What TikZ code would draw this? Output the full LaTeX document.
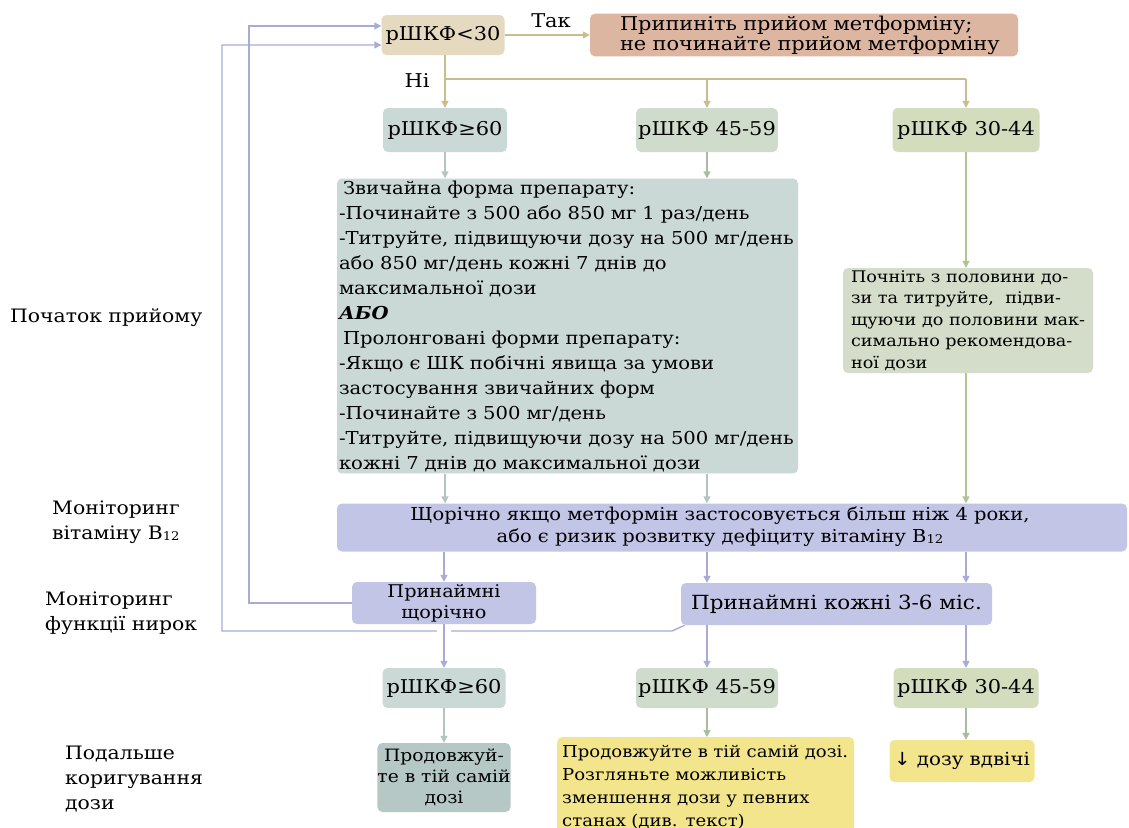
\documentclass[tikz,border=0pt]{standalone}
\usepackage{fontspec}
\setmainfont{DejaVu Serif}[FakeStretch=1.1]
\newfontfamily\symfont{DejaVu Sans}[FakeStretch=1.1]
\usetikzlibrary{arrows.meta}
\definecolor{ctan}{HTML}{E5D9C0}
\definecolor{csalmon}{HTML}{DDB6A2}
\definecolor{cblue}{HTML}{CAD9D5}
\definecolor{cmid}{HTML}{CFDCCB}
\definecolor{colive}{HTML}{D3DDBD}
\definecolor{cright}{HTML}{D3DDC9}
\definecolor{clav}{HTML}{C3C5E6}
\definecolor{cteal}{HTML}{B5C8C6}
\definecolor{cyellow}{HTML}{F3E58C}
\definecolor{ltan}{HTML}{C9BC8E}
\definecolor{lgray}{HTML}{B4C5C0}
\definecolor{lgreen}{HTML}{A8BC9F}
\definecolor{lolive}{HTML}{B2C48E}
\definecolor{llav}{HTML}{A9ABD7}
\newcommand{\fs}[2]{\fontsize{#1}{#2}\selectfont}
\newcommand{\Bsub}{B\raisebox{-1pt}{\fs{12}{12}12}}
\begin{document}
\begin{tikzpicture}[x=1pt,y=-1pt,
  box/.style={rectangle, rounded corners=5pt, draw=none, inner sep=2pt, align=center, font=\fs{18}{22}},
  conn/.style={line width=1.4pt, -{Triangle[length=7pt,width=7pt]}},
  plain/.style={line width=1.4pt},
  lbl/.style={align=left, font=\fs{18.5}{25}, inner sep=0pt, anchor=west}]
\useasboundingbox[fill=white] (0,0) rectangle (1129,827);

% top
\node[box, fill=ctan, minimum width=123pt, minimum height=40pt, font=\fs{19}{22}] (r30) at (443,35) {рШКФ<30};
\node[box, fill=csalmon, minimum height=41pt, text width=396pt, inner xsep=16pt, align=left, font=\fs{19}{20}] (stop) at (804,35) {\hspace{14pt}Припиніть прийом метформіну;\\\hspace{14pt}не починайте прийом метформіну};
\node[font=\fs{19}{20}, inner sep=1pt] (tak) at (551,21) {Так};
\node[font=\fs{19}{20}, inner sep=1pt] (ni) at (417,81) {Ні};

% row 2
\node[box, fill=cblue, minimum width=124pt, minimum height=44pt, font=\fs{19}{22}] (g60a) at (445,130) {рШКФ≥60};
\node[box, fill=cmid, minimum width=140pt, minimum height=44pt, font=\fs{19}{22}] (g45a) at (707,130) {рШКФ 45-59};
\node[box, fill=colive, minimum width=147pt, minimum height=44pt, font=\fs{19}{22}] (g30a) at (966,130) {рШКФ 30-44};

% big box
\node[box, fill=cblue, text width=457pt, minimum height=292pt, align=left, font=\fs{17.8}{25}] (big) at (567.5,326) {%
\hspace{4pt}Звичайна форма препарату:\\
-Починайте з 500 або 850 мг 1 раз/день\\
-Титруйте, підвищуючи дозу на 500 мг/день\\
або 850 мг/день кожні 7 днів до\\
максимальної дози\\
\textbf{\textit{АБО}}\\
\hspace{4pt}Пролонговані форми препарату:\\
-Якщо є ШК побічні явища за умови\\
застосування звичайних форм\\
-Починайте з 500 мг/день\\
-Титруйте, підвищуючи дозу на 500 мг/день\\
кожні 7 днів до максимальної дози};

\node[box, fill=cright, minimum width=250pt, minimum height=105pt, align=left, inner xsep=1pt, font=\fs{16}{21.5}] (half) at (968,320.5) {%
Почніть з половини до-\\
зи та титруйте,\ \ підви-\\
щуючи до половини мак-\\
симально рекомендова-\\
ної дози};

% monitoring
\node[box, fill=clav, minimum width=790pt, minimum height=41pt, font=\fs{17.7}{22}] (b12) at (732,527.5) {\hspace{-24pt}\begin{tabular}{@{}c@{}}Щорічно якщо метформін застосовується більш ніж 4 роки,\\або є ризик розвитку дефіциту вітаміну \Bsub\end{tabular}};
\node[box, fill=clav, minimum width=184pt, minimum height=42pt, font=\fs{17.5}{21}] (yearly) at (444,603) {Принаймні\\щорічно};
\node[box, fill=clav, minimum width=311pt, minimum height=42pt, font=\fs{19.5}{22}] (often) at (836.5,604) {Принаймні кожні 3-6 міс.};

% bottom row
\node[box, fill=cblue, minimum width=123pt, minimum height=40pt, font=\fs{19}{22}] (g60b) at (444,688) {рШКФ≥60};
\node[box, fill=cmid, minimum width=142pt, minimum height=40pt, font=\fs{19}{22}] (g45b) at (707,688) {рШКФ 45-59};
\node[box, fill=colive, minimum width=145pt, minimum height=40pt, font=\fs{19}{22}] (g30b) at (966,688) {рШКФ 30-44};

\node[box, fill=cteal, minimum width=122pt, minimum height=69pt, inner xsep=0pt, font=\fs{17}{21}] (same) at (444,777.5) {Продовжуй-\\те в тій самій\\дозі};
\node[box, fill=cyellow, text width=287pt, minimum height=100pt, align=left, font=\fs{16.4}{23}, anchor=north west, inner xsep=5pt, inner ysep=1pt] (cont) at (557,737) {%
Продовжуйте в тій самій дозі.\\
Розгляньте можливість\\
зменшення дози у певних\\
станах (див. текст)};
\node[box, fill=cyellow, minimum width=145pt, minimum height=42pt, align=left, font=\fs{18}{22}] (halve) at (962,761) {{\symfont ↓} дозу вдвічі};

% left labels
\node[lbl] (l1) at (10,318) {Початок прийому};
\node[lbl] (l2) at (52,522) {Моніторинг\\вітаміну \Bsub};
\node[lbl] (l3) at (45,613) {Моніторинг\\функції нирок};
\node[lbl] (l4) at (65,779) {Подальше\\коригування\\дози};

% connectors top
\draw[conn, ltan] (r30.east) -- (stop.west);
\coordinate (split) at (445,79);
\draw[conn, ltan] (r30.south -| g60a) -- (g60a.north);
\draw[plain, ltan] (split) -- (split -| g30a);
\draw[conn, ltan] (split -| g45a) -- (g45a.north);
\draw[conn, ltan] (split -| g30a) -- (g30a.north);

\draw[conn, lgray] (g60a.south) -- (g60a.south |- big.north);
\draw[conn, lgreen] (g45a.south) -- (g45a.south |- big.north);
\draw[conn, lolive] (g30a.south) -- (half.north -| g30a);
\draw[conn, lolive] (half.south -| g30a) -- (b12.north -| g30a);
\draw[conn, lgray] (big.south -| g60a) -- (b12.north -| g60a);
\draw[conn, lgray] (big.south -| g45a) -- (b12.north -| g45a);

\draw[conn, llav] (b12.south -| yearly) -- (yearly.north);
\draw[conn, llav] (b12.south -| g45a) -- (often.north -| g45a);
\draw[conn, llav] (b12.south -| g30a) -- (often.north -| g30a);

% feedback loops
\coordinate (o1) at (672,631);
\coordinate (ox) at (222,631);
\draw[conn, llav] ([xshift=4pt]often.south west) -- (o1) -- (ox) |- ([yshift=-10pt]r30.west);
\draw[white, line width=6pt] (437,631) -- (451,631);
\coordinate (ix) at (249,603);
\draw[conn, llav] (yearly.west) -- (ix) |- ([yshift=9pt]r30.west);

\draw[conn, llav] (yearly.south) -- (g60b.north);
\draw[conn, llav] (often.south -| g45b) -- (g45b.north);
\draw[conn, llav] (often.south -| g30b) -- (g30b.north);

\draw[conn, lgray] (g60b.south) -- (same.north);
\draw[conn, lgreen] (g45b.south) -- (cont.north -| g45b);
\draw[conn, lgreen] (g30b.south) -- (halve.north -| g30b);
\end{tikzpicture}
\end{document}
